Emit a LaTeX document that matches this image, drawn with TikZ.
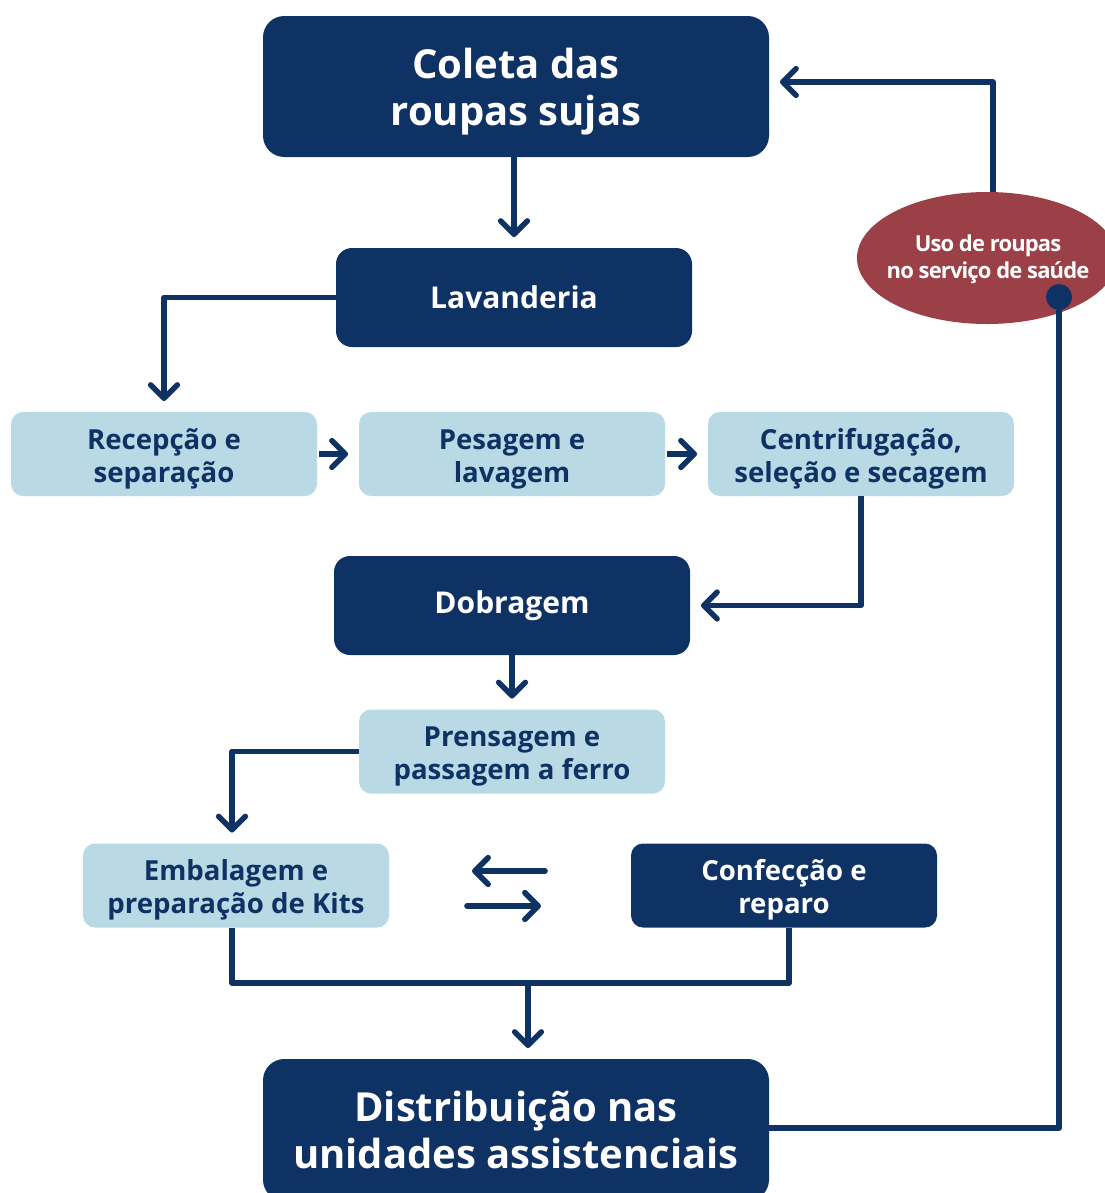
\documentclass[tikz,border=0pt]{standalone}
\usepackage{fontspec}
\setmainfont{Open Sans}
\usetikzlibrary{arrows.meta,shapes.geometric}
\definecolor{navy}{HTML}{0F3264}
\definecolor{sky}{HTML}{B9DAE5}
\definecolor{wine}{HTML}{9B4046}
\begin{document}
\begin{tikzpicture}[x=0.75pt,y=-0.75pt,
  darkbox/.style={fill=navy,text=white,rounded corners=12pt,align=center,font=\bfseries\fontsize{22.5}{27}\selectfont,inner sep=0pt},
  bigbox/.style={darkbox,rounded corners=16pt,font=\bfseries\fontsize{30}{35}\selectfont,minimum width=379.5pt},
  midbox/.style={darkbox,minimum width=267pt,minimum height=74.25pt},
  lightbox/.style={fill=sky,rounded corners=9pt,inner sep=0pt,minimum width=229.5pt,minimum height=63pt},
  navybox/.style={lightbox,fill=navy},
  boxtext/.style={text=navy,align=center,inner sep=0pt,font=\bfseries\fontsize{20.7}{24.75}\selectfont},
  navytext/.style={boxtext,text=white},
  link/.style={draw=navy,line width=4.2pt,line join=round},
  arrow/.style={link,-{Straight Barb[length=10pt,width=20pt,round]},shorten >=8pt},
]
\useasboundingbox (0,0) rectangle (1105,1193);
\begin{scope}
\clip (0,0) rectangle (1105,1193);

% main stages
\node[bigbox,minimum height=105.75pt] (coleta) at (516,86.5) {};
\node[bigbox,fill=none] (coletatxt) at ([yshift=-3.75pt]coleta.center) {Coleta das\\roupas sujas};
\node[midbox] (lav) at (514,297.5) {Lavanderia};
\node[lightbox] (recep) at (164,454) {};
\node[lightbox] (pesag) at (512,454) {};
\node[lightbox] (centr) at (861,454) {};
\node[boxtext] (receptxt) at ([yshift=-3.75pt]recep.center) {Recepção e\\separação};
\node[boxtext] (pesagtxt) at ([yshift=-3.75pt]pesag.center) {Pesagem e\\lavagem};
\node[boxtext] (centrtxt) at ([yshift=-3.75pt]centr.center) {Centrifugação,\\seleção e secagem};
\node[midbox] (dobr) at (512,605.5) {Dobragem};
\node[lightbox] (prens) at (512,751.5) {};
\node[boxtext] (prenstxt) at ([yshift=-3.75pt]prens.center) {Prensagem e\\passagem a ferro};
\node[lightbox] (emb) at (236,885.5) {};
\node[boxtext] (embtxt) at ([yshift=-3.5pt]emb.center) {Embalagem e\\preparação de Kits};
\node[navybox] (conf) at (784,885.5) {};
\node[navytext] (conftxt) at ([yshift=-3.5pt]conf.center) {Confecção e\\reparo};
\node[bigbox,minimum height=106.5pt] (dist) at (516,1130) {Distribuição nas\\unidades assistenciais};

% usage ellipse, its label and anchor dot
\node[ellipse,fill=wine,minimum width=195pt,minimum height=99pt,inner sep=0pt] (uso) at (987,258) {};
\node[text=white,align=center,inner sep=0pt,
  font=\bfseries\fontsize{16.5}{20.5}\selectfont\addfontfeatures{LetterSpace=-4}] (usotxt) at (988,259)
  {Uso de roupas\\no serviço de saúde};
\node[circle,fill=navy,minimum size=19.5pt,inner sep=0pt] (dot) at (1059,297) {};

% flow connectors
\draw[arrow] (lav.north |- coleta.south) -- (lav.north);
\draw[arrow] (lav.west) -| (recep.north);
\draw[arrow,shorten <=1pt] (recep.east) -- (pesag.west);
\draw[arrow,shorten <=1pt] (pesag.east) -- (centr.west);
\draw[arrow] (centr.south) |- (dobr.east);
\draw[arrow] (dobr.south) -- (prens.north);
\draw[arrow] (prens.west) -| ([xshift=-3pt]emb.north);

% exchange between packing and repair
\coordinate (xa) at (545,871);
\coordinate (xb) at (472,871);
\coordinate (xc) at (467,906);
\coordinate (xd) at (541,906);
\draw[arrow,line cap=round,shorten >=0pt] (xa) -- (xb);
\draw[arrow,line cap=round,shorten >=0pt] (xc) -- (xd);

% merge towards distribution
\coordinate (join) at (528,983);
\draw[link] ([xshift=-3pt]emb.south) |- (join) -| ([xshift=3.75pt]conf.south);
\draw[arrow] (join) -- (join |- dist.north);

% return loop
\draw[link] ([yshift=1.5pt]dist.east) -| (dot.center);
\draw[arrow] ([xshift=4.5pt]uso.north) |- ([yshift=3.4pt]coleta.east);
\end{scope}
\end{tikzpicture}
\end{document}
